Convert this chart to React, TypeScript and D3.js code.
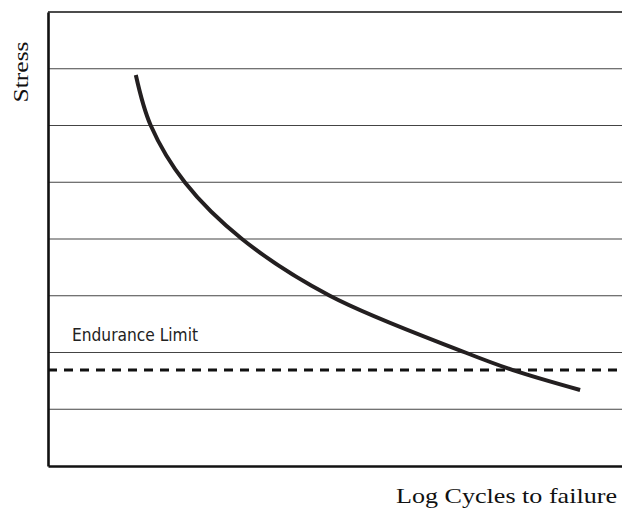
import { useEffect, useRef } from 'react';
import * as d3 from 'd3';

// S-N curve (x: log cycles, y: stress, both arbitrary units)
const logCycles = [1.53, 1.79, 2.39, 3.38, 4.91, 7.27, 8.1, 9.27];
const stress = [6.89, 6.0, 4.99, 4.0, 3.0, 2.0, 1.69, 1.34];
const gridLevels = [1, 2, 3, 4, 5, 6, 7];
const topLevel = 8;
const enduranceLimit = 1.69;

export default function App() {
  const ref = useRef<SVGSVGElement>(null);

  useEffect(() => {
    const width = 622;
    const left = 48;
    const top = 12;
    const bottom = 466;

    const svg = d3.select(ref.current);
    svg.selectAll('*').remove();

    const x = d3.scaleLinear().domain([0, 10]).range([left, width]);
    const y = d3.scaleLinear().domain([0, topLevel]).range([bottom, top]);

    // horizontal grid lines
    svg
      .append('g')
      .selectAll('line')
      .data(gridLevels)
      .enter()
      .append('line')
      .attr('x1', left)
      .attr('x2', width)
      .attr('y1', d => y(d))
      .attr('y2', d => y(d))
      .attr('stroke', '#444')
      .attr('stroke-width', 1.2);

    // top border
    svg
      .append('line')
      .attr('x1', left)
      .attr('x2', width)
      .attr('y1', y(topLevel))
      .attr('y2', y(topLevel))
      .attr('stroke', '#111')
      .attr('stroke-width', 1.6);

    // endurance limit
    svg
      .append('line')
      .attr('x1', left)
      .attr('x2', width)
      .attr('y1', y(enduranceLimit))
      .attr('y2', y(enduranceLimit))
      .attr('stroke', '#111')
      .attr('stroke-width', 3)
      .attr('stroke-dasharray', '9,7');

    svg
      .append('text')
      .attr('x', 72)
      .attr('y', 341)
      .style('font-family', '"Liberation Sans Narrow", "DejaVu Sans Condensed", sans-serif')
      .style('font-size', '17px')
      .attr('fill', '#222')
      .attr('textLength', 126)
      .attr('lengthAdjust', 'spacingAndGlyphs')
      .text('Endurance Limit');

    // curve
    const pts = logCycles.map((c, i) => [c, stress[i]] as [number, number]);
    const line = d3
      .line<[number, number]>()
      .x(d => x(d[0]))
      .y(d => y(d[1]))
      .curve(d3.curveCatmullRom.alpha(0.5));
    svg
      .append('path')
      .attr('d', line(pts))
      .attr('fill', 'none')
      .attr('stroke', '#231f20')
      .attr('stroke-width', 4);

    // axes
    const axisX = d3.axisBottom(x).tickSize(0).tickValues([]);
    const axisY = d3.axisLeft(y).tickSize(0).tickValues([]);
    svg
      .append('g')
      .attr('transform', `translate(0, ${bottom})`)
      .call(axisX)
      .select('path')
      .attr('stroke', '#111')
      .attr('stroke-width', 2.6);
    svg
      .append('g')
      .attr('transform', `translate(${left}, 0)`)
      .call(axisY)
      .select('path')
      .attr('stroke', '#111')
      .attr('stroke-width', 2.6);

    // axis titles
    svg
      .append('text')
      .attr('transform', 'translate(28, 72) rotate(-90)')
      .attr('text-anchor', 'middle')
      .style('font-family', '"Liberation Serif", serif')
      .style('font-size', '22px')
      .attr('fill', '#111')
      .attr('textLength', 61)
      .attr('lengthAdjust', 'spacingAndGlyphs')
      .text('Stress');

    svg
      .append('text')
      .attr('x', 396)
      .attr('y', 503)
      .style('font-family', '"Liberation Serif", serif')
      .style('font-size', '21px')
      .attr('fill', '#111')
      .attr('textLength', 221)
      .attr('lengthAdjust', 'spacingAndGlyphs')
      .text('Log Cycles to failure');
  }, []);

  return (
    <svg
      ref={ref}
      width={622}
      height={510}
      style={{ position: 'absolute', left: 0, top: 0, background: '#fff' }}
    />
  );
}
